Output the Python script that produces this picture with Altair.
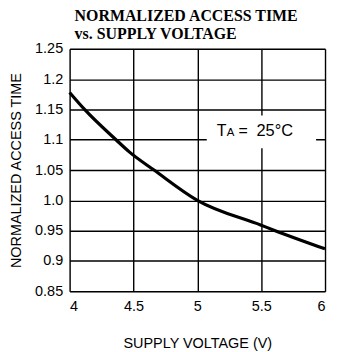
import altair as alt
import pandas as pd

# Curve data
voltage = [4.0, 4.117, 4.363, 4.467, 4.661, 5.0, 5.5, 5.61, 6.0]
access_time = [1.178, 1.15, 1.10, 1.08, 1.05, 1.0, 0.959, 0.95, 0.92]

x_ticks = [4, 4.5, 5, 5.5, 6]
y_ticks = [0.85, 0.9, 0.95, 1.0, 1.05, 1.1, 1.15, 1.2, 1.25]

df = pd.DataFrame({"v": voltage, "t": access_time})

W, H = 257, 244
LAB = "Liberation Sans"

base = alt.Chart(df)

line = base.mark_line(color="black", strokeWidth=3.2, interpolate="monotone").encode(
    x=alt.X("v:Q",
            scale=alt.Scale(domain=[4, 6], nice=False, zero=False),
            axis=alt.Axis(values=x_ticks, title="SUPPLY VOLTAGE (V)",
                          labelExpr="format(datum.value, '~g')",
                          grid=True, gridColor="black", gridWidth=1.4, gridOpacity=1,
                          ticks=False, domain=False, labelPadding=8,
                          labelFont=LAB, labelFontSize=14.5, labelColor="black",
                          titleFont=LAB, titleFontSize=14.5, titleFontWeight="normal",
                          titleColor="black", titlePadding=24)),
    y=alt.Y("t:Q",
            scale=alt.Scale(domain=[0.85, 1.25], nice=False, zero=False),
            axis=alt.Axis(values=y_ticks, title="NORMALIZED ACCESS TIME",
                          labelExpr="datum.value == 1 ? '1.0' : format(datum.value, '.2~f')",
                          grid=True, gridColor="black", gridWidth=1.4, gridOpacity=1,
                          ticks=False, domain=False, labelPadding=7,
                          labelFont=LAB, labelFontSize=14.5, labelColor="black",
                          titleFont=LAB, titleFontSize=14.5, titleFontWeight="normal",
                          titleColor="black", titlePadding=11)),
)

box = alt.Chart(pd.DataFrame({"a": [0]})).mark_rect(color="white").encode(
    x=alt.value(138), x2=alt.value(248), y=alt.value(67), y2=alt.value(100)
)
t1 = alt.Chart(pd.DataFrame({"a": [0]})).mark_text(
    text="T", align="left", baseline="alphabetic", font=LAB, fontSize=16, color="black"
).encode(x=alt.value(148), y=alt.value(88))
t2 = alt.Chart(pd.DataFrame({"a": [0]})).mark_text(
    text="A", align="left", baseline="alphabetic", font=LAB, fontSize=11.5, color="black"
).encode(x=alt.value(158), y=alt.value(88))
t3 = alt.Chart(pd.DataFrame({"a": [0]})).mark_text(
    text="=", align="left", baseline="alphabetic", font=LAB, fontSize=16, color="black"
).encode(x=alt.value(170), y=alt.value(88))
t4 = alt.Chart(pd.DataFrame({"a": [0]})).mark_text(
    text="25°C", align="left", baseline="alphabetic", font=LAB, fontSize=16.5, color="black"
).encode(x=alt.value(188), y=alt.value(88))

chart = alt.layer(line, box, t1, t2, t3, t4).properties(
    width=W, height=H,
    title=alt.Title(["NORMALIZED ACCESS TIME", "vs. SUPPLY VOLTAGE"],
                    anchor="start", frame="group", dx=5, offset=-1,
                    font="Liberation Serif", fontSize=16, fontWeight="bold",
                    color="black", lineHeight=18),
    autosize=alt.AutoSizeParams(type="none"),
    padding={"left": 62, "top": 40, "right": 4, "bottom": 60},
).configure_view(stroke="black", strokeWidth=1.6).configure(background="white")

chart.save("out.html", embed_options={"renderer": "svg", "actions": False})
